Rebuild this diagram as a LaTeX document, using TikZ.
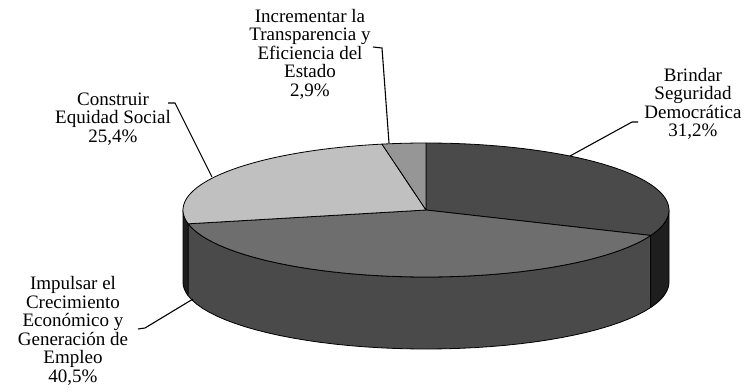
\documentclass[tikz,border=0pt]{standalone}
\usepackage{fontspec}
\setmainfont{Liberation Serif}
\usetikzlibrary{positioning}
\tikzstyle{leader} = [line width=1.1pt]
\tikzstyle{lbl} = [align=center, inner sep=0pt, font=\fontsize{19}{18.5}\selectfont]
\tikzstyle{slice} = [draw=black, line width=0.8pt, line join=round]

\definecolor{briTop}{HTML}{4A4A4A}
\definecolor{impTop}{HTML}{6E6E6E}
\definecolor{conTop}{HTML}{C0C0C0}
\definecolor{incTop}{HTML}{969696}
\definecolor{impSide}{HTML}{4A4A4A}
\definecolor{darkSide}{HTML}{1E1E1E}

% pie geometry (in pt, y downwards)
\newcommand{\pieX}{426}
\newcommand{\pieY}{210}
\newcommand{\pieA}{243}
\newcommand{\pieB}{67}
\newcommand{\pieH}{72}

\newcommand{\topslice}[3]{%
  \filldraw[slice, fill=#3] (\pieX,\pieY) -- plot[domain=#1:#2, samples=60]
    ({\pieX+\pieA*cos(\x)},{\pieY-\pieB*sin(\x)}) -- cycle;}
\newcommand{\sideslice}[3]{%
  \filldraw[slice, fill=#3] plot[domain=#1:#2, samples=40]
    ({\pieX+\pieA*cos(\x)},{\pieY-\pieB*sin(\x)})
    -- plot[domain=#2:#1, samples=40]
    ({\pieX+\pieA*cos(\x)},{\pieY+\pieH-\pieB*sin(\x)}) -- cycle;}

\begin{document}
\begin{tikzpicture}[x=1pt, y=-1pt]
    \useasboundingbox (0,0) rectangle (752,391);

    % sides
    \sideslice{180}{191.88}{darkSide}
    \sideslice{191.88}{337.68}{impSide}
    \sideslice{337.68}{360}{darkSide}

    % top
    \topslice{-22.32}{90}{briTop}
    \topslice{191.88}{337.68}{impTop}
    \topslice{100.44}{191.88}{conTop}
    \topslice{90}{100.44}{incTop}

    % labels
    \node (bri) [lbl] at (693,104) {Brindar\\Seguridad\\Democrática\\31,2\%};
    \node (inc) [lbl] at (310,54) {Incrementar la\\Transparencia y\\Eficiencia del\\Estado\\2,9\%};
    \node (con) [lbl] at (113,119) {Construir\\Equidad Social\\25,4\%};
    \node (imp) [lbl] at (73,331) {Impulsar el\\Crecimiento\\Económico y\\Generación de\\Empleo\\40,5\%};

    % leaders
    \coordinate (pBri) at (570,156);
    \coordinate (pInc) at (389,143);
    \coordinate (pCon) at (212,177);
    \coordinate (pImp) at (193,299);

    \draw [leader] (pBri) -- (632,122) -- (638,122);
    \draw [leader] (pInc) -- (382,48) -- (373,47);
    \draw [leader] (pCon) -- (175,103) -- (168,103);
    \draw [leader] (pImp) -- (145,328) -- (138,329);
\end{tikzpicture}
\end{document}
